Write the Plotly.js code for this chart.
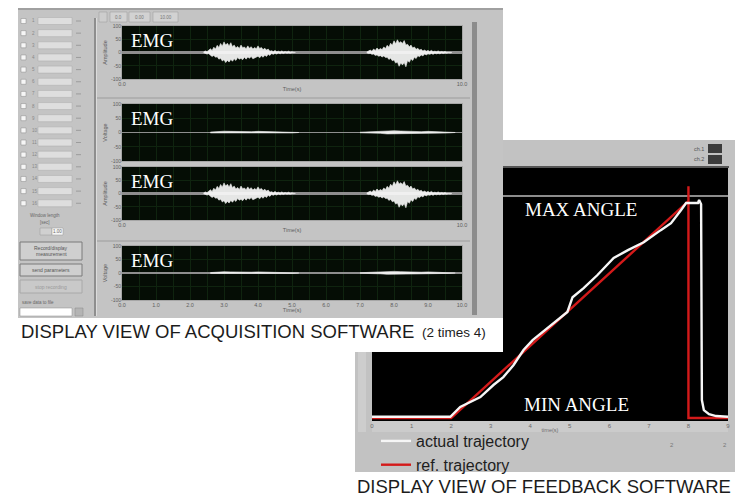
<!DOCTYPE html>
<html>
<head>
<meta charset="utf-8">
<script src="https://cdn.plot.ly/plotly-3.0.1.min.js"></script>
<style>
  html, body { margin: 0; padding: 0; background: #ffffff; }
  #chart { width: 742px; height: 497px; }
</style>
</head>
<body>
<div id="chart"></div>
<script>
// ---------------- data ----------------
// EMG envelope of the strong channels (µV): first contraction burst
const strongBurst1Time  = [2.40,2.45,2.50,2.55,2.60,2.65,2.70,2.75,2.80,2.85,2.90,2.95,
                           3.00,3.05,3.10,3.15,3.20,3.25,3.30,3.35,3.40,3.45,3.50,3.55,3.60,3.65,3.70,3.75,3.80,3.85,3.90,3.95,
                           4.00,4.05,4.10,4.15,4.20,4.25,4.30,4.35,4.40,4.45,4.50,4.55,4.60,4.65,4.70,4.75,4.80,4.85,4.90,4.95,
                           5.00,5.05,5.10];
const strongBurst1Upper = [2,6,3,9,14,8,20,13,27,19,34,24,
                           40,28,35,25,37,22,28,17,23,15,28,18,21,14,25,16,22,13,19,14,
                           25,15,19,11,16,9,13,5,7,3,8,3,5,2,6,2,4,2,5,1,
                           3,1,0];
const strongBurst1Lower = [-1,-3,-6,-4,-10,-15,-11,-18,-16,-25,-22,-32,
                           -27,-38,-30,-36,-26,-33,-24,-30,-19,-25,-22,-27,-18,-25,-17,-22,-15,-24,-20,-17,
                           -14,-20,-12,-18,-10,-15,-7,-11,-4,-7,-3,-6,-2,-5,-2,-4,-1,-3,-2,-3,
                           -1,-1,0];
// strong channels: second contraction burst
const strongBurst2Time  = [7.20,7.25,7.30,7.35,7.40,7.45,7.50,7.55,7.60,7.65,7.70,7.75,7.80,7.85,7.90,7.95,
                           8.00,8.05,8.10,8.15,8.20,8.25,8.30,8.35,8.40,8.45,8.50,8.55,8.60,8.65,8.70,8.75,8.80,8.85,8.90,8.95,
                           9.00,9.05,9.10,9.15,9.20,9.25,9.30,9.35,9.40,9.45,9.50,9.55,9.60,9.65,9.70];
const strongBurst2Upper = [2,5,9,5,13,8,17,10,15,11,21,15,27,20,35,27,
                           44,33,48,36,41,34,45,28,31,22,28,17,21,12,16,9,12,6,9,5,
                           8,4,8,3,5,3,6,2,4,2,4,1,2,1,0];
const strongBurst2Lower = [-1,-4,-3,-7,-6,-11,-9,-14,-12,-17,-13,-19,-18,-26,-22,-31,
                           -28,-40,-36,-52,-40,-47,-38,-54,-30,-37,-24,-30,-18,-23,-12,-16,-9,-13,-6,-9,
                           -5,-7,-4,-7,-3,-5,-3,-5,-2,-4,-2,-3,-1,-2,0];
// weak channels: the same two bursts at low amplitude
const weakBurst1Time  = [2.6,2.8,3.0,3.2,3.4,3.6,3.8,4.0,4.2,4.4,4.6,4.8,5.0,5.2];
const weakBurst1Upper = [1.5,4,4.5,4,3,4,3,4,3,2.5,3,2,1.5,0];
const weakBurst1Lower = [-1.5,-3,-4,-3,-3,-2.5,-3,-3,-2.5,-2,-2,-1.5,-1.5,0];
const weakBurst2Time  = [7.0,7.2,7.4,7.6,7.8,8.0,8.2,8.4,8.6,8.8,9.0,9.2,9.4,9.6,9.8];
const weakBurst2Upper = [1,2,3,4,6,6,5,4,3,3,4,3,2,1.5,0];
const weakBurst2Lower = [-1,-2,-2,-3,-5,-5,-4,-3,-2.5,-2.5,-3,-2,-2,-1.5,0];

const emgTimeTicks  = [0,1,2,3,4,5,6,7,8,9,10];
const emgTimeLabels = ['0.0','1.0','2.0','3.0','4.0','5.0','6.0','7.0','8.0','9.0','10.0'];
const emgAmpTicks   = [-100,-50,0,50,100];
const emgAmpLabels  = ['-100','-50','0','50','100'];
const emgTitles     = ['Amplitude','Voltage','Amplitude','Voltage'];

// feedback display: joint angle (deg) against time (s)
const angleLimits = [0, 90];                  // MIN ANGLE, MAX ANGLE
const refTime     = [0, 2, 8, 8, 8, 9];
const refAngle    = [0, 0, 88, 94, 0, 0];
const actualTime  = [0,1.98,2.23,2.74,3.07,3.32,3.58,3.83,4.06,4.44,4.77,4.94,5.07,5.35,5.70,6.11,6.47,6.87,7.30,7.56,7.81,7.94,8.24,8.27,8.32,8.34,8.39,8.52,8.70,9.0];
const actualAngle = [0.5,0.5,4.5,8.5,13.4,16.6,21.5,27.6,31.6,36.5,40.9,43.0,49.0,52.7,58.0,64.9,68.1,71.3,76.2,79.0,84.3,87.2,87.2,88.4,86.7,7.3,3.2,1.6,0.8,0.5];
const trajTicks   = [0,1,2,3,4,5,6,7,8,9];
const trajLabels  = ['0','1','2','3','4','5','6','7','8','9'];

// ---------------- helpers (pixel -> paper) ----------------
const W = 742, H = 497;
const fx = px => px / W;
const fy = py => 1 - py / H;
const SANS  = 'Liberation Sans, Arial, sans-serif';
const SERIF = 'Liberation Serif, Times New Roman, serif';
const GRID  = '#0f240f';
const SMALL = '#5e5e5e';

const shapes = [];
const annotations = [];

function box(x0, y0, x1, y1, fill, lineColor, lineWidth) {
  shapes.push({
    type: 'rect', xref: 'paper', yref: 'paper', layer: 'below',
    x0: fx(x0), x1: fx(x1), y0: fy(y1), y1: fy(y0),
    fillcolor: fill, line: { width: lineWidth || 0, color: lineColor || fill }
  });
}
function label(x, y, text, size, color, anchor, family) {
  annotations.push({
    xref: 'paper', yref: 'paper', x: fx(x), y: fy(y), text: text,
    showarrow: false, xanchor: anchor || 'left', yanchor: 'middle',
    font: { family: family || SANS, size: size, color: color || SMALL },
    borderpad: 0
  });
}

// ---------------- feedback window (drawn first, partly covered) ----------------
box(355, 140, 735, 472, '#c2c2c2');
box(358, 352, 366, 432, '#cdcdcd');
box(371, 166, 729, 168, '#555555');
box(372, 168, 728, 421, '#000000');
box(372, 421, 728, 432, '#cbcbcb');
shapes.push({
  type: 'line', xref: 'paper', yref: 'y5', layer: 'below',
  x0: fx(372), x1: fx(728), y0: angleLimits[1], y1: angleLimits[1],
  line: { color: '#8c8c8c', width: 2 }
});
box(708, 144, 722, 153, '#3c3c3c');
box(708, 155, 722, 164, '#3c3c3c');
label(705, 149, 'ch.1', 5.5, '#555', 'right');
label(705, 159, 'ch.2', 5.5, '#555', 'right');
label(672, 445, '2', 6, '#777', 'center');
label(725, 445, '2', 6, '#777', 'center');

// ---------------- acquisition window ----------------
box(0, 0, 503, 352, '#ffffff');
box(18, 8, 503, 318, '#c4c4c4');
box(18, 8, 503, 10, '#a0a0a0');
// toolbar
box(99, 12, 107, 22, '#cdcdcd', '#9a9a9a', 0.5);
box(110, 12, 127, 22, '#d2d2d2', '#9a9a9a', 0.5);
box(129, 12, 150, 22, '#d2d2d2', '#9a9a9a', 0.5);
box(153, 12, 178, 22, '#d2d2d2', '#9a9a9a', 0.5);
label(118.5, 17, '0.0', 4.5, '#777', 'center');
label(139.5, 17, '0.00', 4.5, '#777', 'center');
label(165.5, 17, '10.00', 4.5, '#777', 'center');
// channel list
for (let i = 0; i < 16; i++) {
  const y = 21 + i * 12.15;
  box(21, y - 2.5, 26, y + 2.5, '#f6f6f6', '#8a8a8a', 0.5);
  label(31, y, String(i + 1), 4.5, '#888');
  box(38, y - 3.5, 72, y + 3.5, '#dedede', '#ababab', 0.5);
  box(76, y - 0.5, 81, y + 0.5, '#9c9c9c');
}
label(45, 215, 'Window length', 4.5, '#666', 'center');
label(45, 222, '[sec]', 4.5, '#666', 'center');
box(40, 228, 52, 235, '#d0d0d0', '#999', 0.5);
box(52, 228, 63, 235, '#f6f6f6', '#999', 0.5);
label(57.5, 231.5, '1.00', 4.5, '#666', 'center');
box(20, 242, 82, 260, '#cfcfcf', '#7a7a7a', 1);
label(51, 248, 'Record/display', 5, '#555', 'center');
label(51, 254, 'measurement', 5, '#555', 'center');
box(20, 264, 82, 276, '#cfcfcf', '#7a7a7a', 1);
label(51, 270, 'send parameters', 5, '#555', 'center');
box(20, 280, 82, 293, '#c9c9c9', '#a8a8a8', 1);
label(51, 286.5, 'stop recording', 5, '#9a9a9a', 'center');
label(21, 302, 'save data to file', 4.5, '#666');
box(20, 308, 72, 316, '#ffffff', '#8a8a8a', 0.5);
box(75, 308, 83, 316, '#b4b4b4', '#8a8a8a', 0.5);
// separators and scrollbar
box(94, 18, 96, 316, '#8e8e8e');
box(96, 18, 97, 316, '#dcdcdc');
box(97, 97.5, 470, 98.5, '#9c9c9c');
box(97, 240.5, 470, 241.5, '#9c9c9c');
box(472, 22, 477, 315, '#8c8c8c');

// EMG panes (pixel top / bottom)
const emgRows = [[26, 79], [104, 161], [167, 220], [246, 300]];
const emgLabelMode = ['ends', 'none', 'ends', 'all'];
emgRows.forEach(([top, bot]) => {
  box(121, top - 1, 463, bot + 1, '#a6a6a6');
  box(122, top, 462, bot, '#050d05');
  label(130, top + 14.5, 'EMG', 19, '#ffffff', 'left', SERIF);
});

// ---------------- traces ----------------
const traces = [];
function envelope(t, up, lo, n) {
  traces.push({
    type: 'scatter', mode: 'lines', xaxis: 'x' + n, yaxis: 'y' + n,
    x: t.concat(t.slice().reverse()),
    y: up.concat(lo.slice().reverse()),
    fill: 'toself', fillcolor: 'rgba(248,248,248,0.92)',
    line: { color: 'rgba(235,235,235,0.85)', width: 0.7 },
    hoverinfo: 'skip', showlegend: false
  });
}
['', '2', '3', '4'].forEach((n, i) => {
  if (i % 2 === 0) {
    envelope(strongBurst1Time, strongBurst1Upper, strongBurst1Lower, n);
    envelope(strongBurst2Time, strongBurst2Upper, strongBurst2Lower, n);
  } else {
    envelope(weakBurst1Time, weakBurst1Upper, weakBurst1Lower, n);
    envelope(weakBurst2Time, weakBurst2Upper, weakBurst2Lower, n);
  }
});

traces.push({
  type: 'scatter', mode: 'lines', xaxis: 'x5', yaxis: 'y5',
  x: refTime, y: refAngle, name: 'ref. trajectory', legendrank: 2,
  line: { color: '#d41a1a', width: 2.4 }
});
traces.push({
  type: 'scatter', mode: 'lines', xaxis: 'x5', yaxis: 'y5',
  x: actualTime, y: actualAngle, name: 'actual trajectory', legendrank: 1,
  line: { color: '#f6f6f6', width: 2.4 }
});

// ---------------- layout ----------------
const layout = {
  width: W, height: H,
  margin: { l: 0, r: 0, t: 0, b: 0, pad: 0 },
  paper_bgcolor: '#ffffff', plot_bgcolor: 'rgba(0,0,0,0)',
  font: { family: SANS, color: '#333' },
  showlegend: true,
  legend: {
    x: fx(376), y: fy(424), xanchor: 'left', yanchor: 'top',
    bgcolor: 'rgba(0,0,0,0)', borderwidth: 0,
    font: { family: SANS, size: 16, color: '#1e1e1e' },
    tracegroupgap: 0, itemclick: false
  },
  shapes: shapes,
  annotations: annotations
};

emgRows.forEach(([top, bot], i) => {
  const n = i === 0 ? '' : String(i + 1);
  const mode = emgLabelMode[i];
  const tv = mode === 'all' ? emgTimeTicks : mode === 'ends' ? [emgTimeTicks[0], emgTimeTicks[10]] : [];
  const tt = mode === 'all' ? emgTimeLabels : mode === 'ends' ? [emgTimeLabels[0], emgTimeLabels[10]] : [];
  layout['xaxis' + n] = {
    domain: [fx(122), fx(462)], anchor: 'y' + n, range: [0, 10],
    tickmode: 'array', tickvals: tv, ticktext: tt, showticklabels: mode !== 'none',
    ticks: '', showline: false, zeroline: false,
    showgrid: true, gridcolor: GRID, gridwidth: 1,
    minor: { tickmode: 'linear', tick0: 0, dtick: 0.5, showgrid: true, gridcolor: GRID, gridwidth: 1, ticks: '' },
    tickfont: { size: 5.5, color: SMALL },
    title: mode === 'none' ? { text: '' } : { text: 'Time(s)', font: { size: 5.5, color: SMALL }, standoff: 1 },
    fixedrange: true
  };
  layout['yaxis' + n] = {
    domain: [fy(bot), fy(top)], anchor: 'x' + n, range: [-100, 100],
    tickmode: 'array', tickvals: emgAmpTicks, ticktext: emgAmpLabels,
    tickfont: { size: 5, color: SMALL }, ticks: '', showline: false,
    showgrid: true, gridcolor: GRID, gridwidth: 1,
    zeroline: true, zerolinecolor: '#8e8e8e', zerolinewidth: i % 2 === 0 ? 2.6 : 1.6,
    title: { text: emgTitles[i], font: { size: 5.5, color: SMALL }, standoff: 3 },
    fixedrange: true
  };
});

layout.xaxis5 = {
  domain: [fx(372), fx(728)], anchor: 'y5', range: [0, 9],
  tickmode: 'array', tickvals: trajTicks, ticktext: trajLabels,
  tickfont: { size: 6, color: '#6a6a6a' }, ticks: '',
  showgrid: false, zeroline: false, showline: false,
  title: { text: 'time(s)', font: { size: 5.5, color: '#6a6a6a' }, standoff: 0 },
  fixedrange: true
};
layout.yaxis5 = {
  domain: [fy(421), fy(168)], anchor: 'x5', range: [-1.2, 101.4],
  showticklabels: false, ticks: '', showgrid: false, zeroline: false, showline: false,
  fixedrange: true
};

// text on the feedback display
annotations.push({
  xref: 'paper', yref: 'y5', x: fx(523), y: 84.5, text: 'MAX ANGLE', showarrow: false,
  xanchor: 'left', yanchor: 'middle', font: { family: SERIF, size: 19, color: '#ffffff' }
});
annotations.push({
  xref: 'paper', yref: 'y5', x: fx(522), y: 5.3, text: 'MIN ANGLE', showarrow: false,
  xanchor: 'left', yanchor: 'middle', font: { family: SERIF, size: 19, color: '#ffffff' }
});

// captions
label(20, 331, 'DISPLAY VIEW OF ACQUISITION SOFTWARE', 18.5, '#1c1c1c');
label(421, 332, '(2 times 4)', 13.5, '#1c1c1c');
label(544, 486, 'DISPLAY VIEW OF FEEDBACK SOFTWARE', 18.5, '#1c1c1c', 'center');

Plotly.newPlot('chart', traces, layout, { staticPlot: true, displayModeBar: false });
</script>
</body>
</html>
